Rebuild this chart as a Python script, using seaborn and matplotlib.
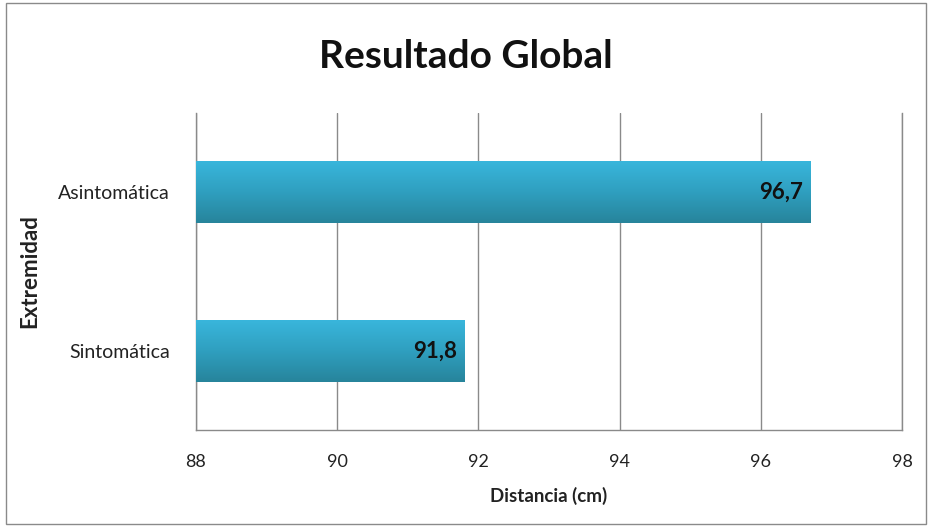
import numpy as np
import pandas as pd
import matplotlib
matplotlib.use("Agg")
import matplotlib.pyplot as plt
import seaborn as sns
from matplotlib.colors import LinearSegmentedColormap

categories = ["Asintomática", "Sintomática"]
values = [96.7, 91.8]
value_labels = ["96,7", "91,8"]
x_ticks = [88, 90, 92, 94, 96, 98]

sns.set_theme(style="white")
plt.rcParams['font.family'] = ['Lato', 'DejaVu Sans']

df = pd.DataFrame({"Extremidad": categories, "Distancia": values})

fig = plt.figure(figsize=(9.32, 5.27), dpi=100)
ax = fig.add_axes([0.2103, 0.1841, 0.7575, 0.6015])

sns.barplot(data=df, x="Distancia", y="Extremidad", orient="h", color="#34aed2",
            width=0.39, ax=ax, zorder=3)

ax.set_xlim(88, 98)
ax.set_xticks(x_ticks)
ax.set_xticklabels([str(t) for t in x_ticks], fontsize=13, color="#222222")
ax.tick_params(axis="y", labelsize=14, labelcolor="#222222", length=0, pad=19)
ax.tick_params(axis="x", length=0, pad=17)
ax.xaxis.grid(True, color="#8a8a8a", linewidth=1.0)
ax.set_axisbelow(True)
ax.spines["top"].set_visible(False)
for side in ["left", "bottom", "right"]:
    ax.spines[side].set_visible(True)
    ax.spines[side].set_color("#8a8a8a")
    ax.spines[side].set_linewidth(1.0)

ax.set_xlabel("Distancia (cm)", fontsize=13.5, fontweight="bold", color="#222222")
ax.xaxis.set_label_coords(0.5, -0.208)
ax.xaxis.label.set_va("center")
ax.set_ylabel("Extremidad", fontsize=16, fontweight="bold", color="#222222")
ax.yaxis.set_label_coords(-0.235, 0.5)
ax.yaxis.label.set_va("center")

# gradient fill clipped to each bar
cmap = LinearSegmentedColormap.from_list("g", ["#39b6dc", "#2f9fbf", "#27849b"])
grad = np.linspace(0, 1, 256).reshape(-1, 1)
for patch, lab in zip(ax.patches, value_labels):
    x0, y0 = patch.get_x(), patch.get_y()
    w, h = patch.get_width(), patch.get_height()
    ytop, ybot = min(y0, y0 + h), max(y0, y0 + h)
    im = ax.imshow(grad, aspect="auto", cmap=cmap,
                   extent=(88, x0 + w, ybot, ytop), origin="upper", zorder=4)
    im.set_clip_path(patch)
    patch.set_edgecolor("none")
    ax.text(x0 + w - 0.1, y0 + h / 2, lab, ha="right", va="center",
            fontsize=16, fontweight="bold", color="#111111", zorder=5)

ax.set_ylim(1.5, -0.5)
ax.set_xlim(88, 98)

fig.text(0.5, 0.892, "Resultado Global", ha="center", va="center",
         fontsize=28, fontweight="bold", color="#111111")

border = plt.Rectangle((0.006, 0.006), 0.988, 0.988, transform=fig.transFigure,
                       fill=False, edgecolor="#8a8a8a", linewidth=1.0)
fig.patches.append(border)

fig.savefig("out.png", dpi=100)
